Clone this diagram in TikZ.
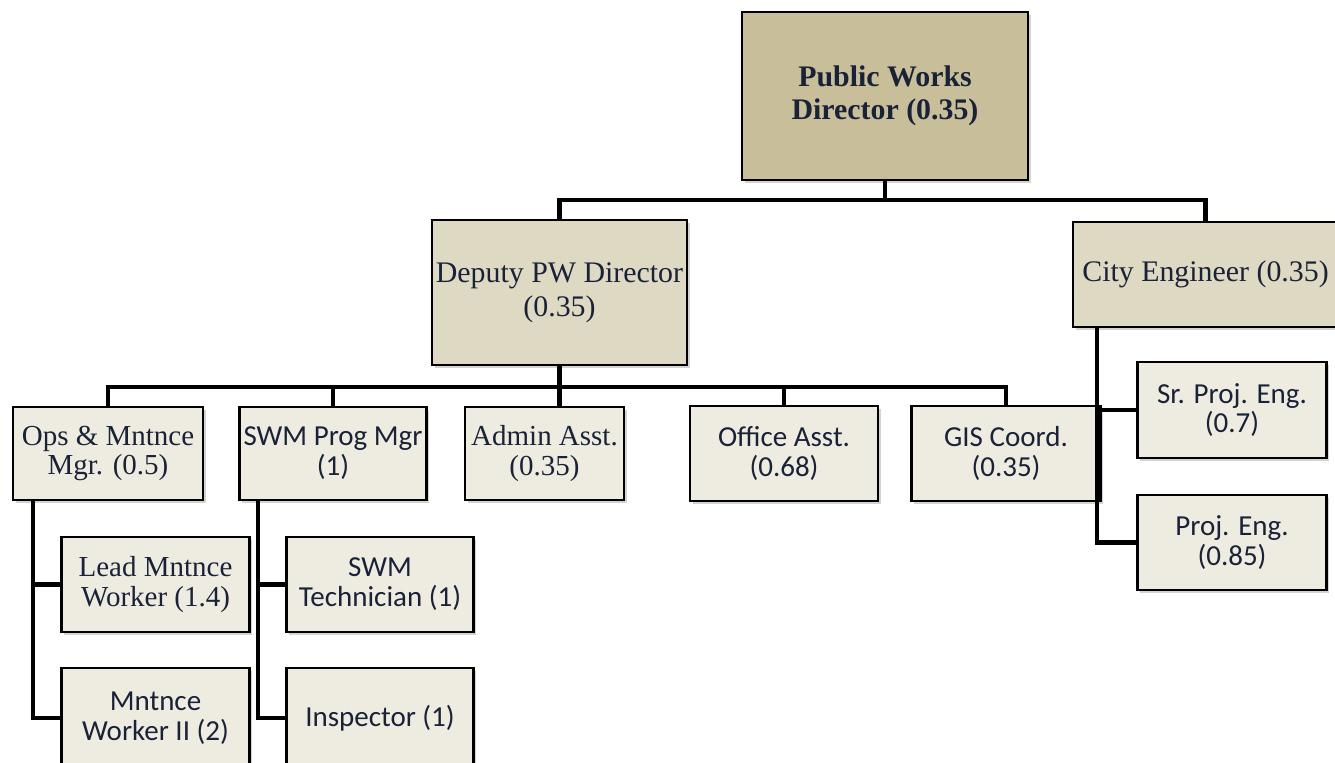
\documentclass[tikz,border=0pt]{standalone}
\usepackage{fontspec}
\setmainfont{Liberation Serif}
\newfontfamily\calib{Carlito}
\usetikzlibrary{shadows}

\definecolor{headfill}{HTML}{C8BE9A}
\definecolor{deputyfill}{HTML}{DDD9C3}
\definecolor{stafffill}{HTML}{EEECE1}
\definecolor{boxtext}{HTML}{1A2238}

\begin{document}
\begin{tikzpicture}[
    x=0.02cm, y=-0.02cm,
    line cap=round,
    orgbox/.style={draw=black, line width=1.6pt, align=center, inner sep=0pt,
      text=boxtext, drop shadow={shadow xshift=1.5pt, shadow yshift=-1.5pt, opacity=0.35}},
    boxdim/.style 2 args={minimum width=#1*0.02cm, minimum height=#2*0.02cm},
    headbox/.style={orgbox, fill=headfill, font=\fontsize{17}{18.5}\selectfont\bfseries},
    deputybox/.style={orgbox, fill=deputyfill, font=\fontsize{17}{19.5}\selectfont},
    staffbox/.style={orgbox, fill=stafffill, font=\fontsize{16.5}{17}\selectfont},
    sansbox/.style={staffbox, font=\calib\fontsize{16.5}{17}\selectfont},
    link/.style={line width=2.8pt, line cap=butt}
]
  \useasboundingbox (0,0) rectangle (1335,763);
  \clip (0,0) rectangle (1335,763);

  % Top of the chart
  \node[headbox, boxdim={286}{168}] (pwd) at (885,96) {Public Works\\Director (0.35)};
  \node[deputybox, boxdim={255}{145}] (dep) at (559.5,292.5) {Deputy PW Director\\(0.35)};
  \node[deputybox, boxdim={265}{105}] (ce) at (1205.5,274.5) {City Engineer (0.35)};

  % Reports to the deputy
  \node[staffbox, boxdim={190}{93}] (ops) at (108,453.5) {Ops \& Mntnce\\Mgr. (0.5)};
  \node[sansbox, boxdim={187}{93}] (swm) at (333,453.5) {SWM Prog Mgr\\(1)};
  \node[staffbox, boxdim={159}{93}] (adm) at (544.5,453.5) {Admin Asst.\\(0.35)};
  \node[sansbox, boxdim={188}{95}] (off) at (784,453.5) {Office Asst.\\(0.68)};
  \node[sansbox, boxdim={189}{95}] (gis) at (1006,453.5) {GIS Coord.\\(0.35)};

  % Field staff
  \node[staffbox, boxdim={188}{95}] (lead) at (155.5,584.5) {Lead Mntnce\\Worker (1.4)};
  \node[sansbox, boxdim={188}{100}] (mw2) at (155.5,718) {Mntnce\\Worker II (2)};
  \node[sansbox, boxdim={187}{95}] (tech) at (380,584.5) {SWM\\Technician (1)};
  \node[sansbox, boxdim={187}{100}] (insp) at (380,718) {Inspector (1)};

  % Engineering staff
  \node[sansbox, boxdim={189}{96}] (sr) at (1232,410) {Sr. Proj. Eng.\\(0.7)};
  \node[sansbox, boxdim={189}{95}] (pe) at (1232,542.5) {Proj. Eng.\\(0.85)};

  % Bus lines
  \coordinate (topbus) at (0,200);
  \coordinate (depbus) at (0,387);
  \coordinate (opsline) at (33,0);
  \coordinate (swmline) at (258,0);
  \coordinate (celine) at (1097,0);

  % Connectors
  \draw[link] (pwd.south) -- (pwd.south |- topbus);
  \draw[link] (dep.north) -- (dep.north |- topbus) -- (ce.north |- topbus) -- (ce.north);
  \draw[link] (dep.south) -- (dep.south |- adm.north);
  \draw[link] (ops.north) -- (ops.north |- depbus) -- (gis.north |- depbus) -- (gis.north);
  \draw[link] (swm.north |- depbus) -- (swm.north);
  \draw[link] (off.north |- depbus) -- (off.north);
  \draw[link] (ops.south -| opsline) |- (lead.west);
  \draw[link] (ops.south -| opsline) |- (mw2.west);
  \draw[link] (swm.south -| swmline) |- (tech.west);
  \draw[link] (swm.south -| swmline) |- (insp.west);
  \draw[link] (ce.south -| celine) |- (sr.west);
  \draw[link] (ce.south -| celine) |- (pe.west);
\end{tikzpicture}
\end{document}
